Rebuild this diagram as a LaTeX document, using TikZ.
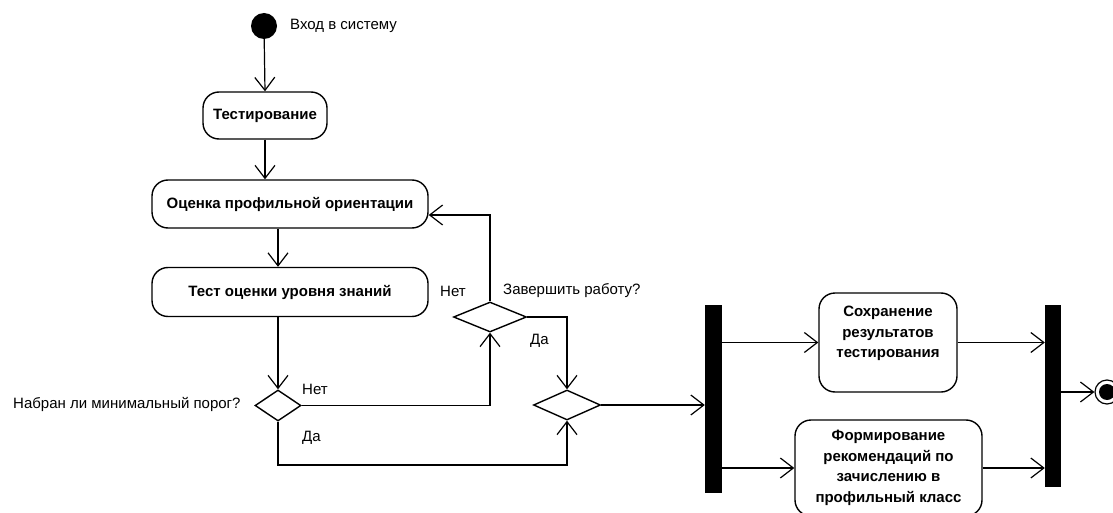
\documentclass[tikz,border=0pt]{standalone}
\usepackage{fontspec}
\setmainfont{Liberation Sans}
\usetikzlibrary{arrows.meta,shapes.geometric}
\begin{document}
\begin{tikzpicture}[x=1pt,y=-1pt,
 font=\fontsize{15}{20}\selectfont,
 act/.style={draw, line width=1.4pt, rounded corners=16pt, font=\fontsize{15}{20.5}\selectfont\bfseries, align=center, inner sep=0pt},
 dec/.style={draw, diamond, line width=1.4pt, inner sep=0pt},
 bar/.style={fill=black, draw=none, inner sep=0pt},
 flow/.style={line width=1.2pt, -{Straight Barb[length=13pt,width=20pt,line width=1.2pt]}},
 lbl/.style={inner sep=0pt, anchor=west}]
\clip (0,0) rectangle (1113,513);
\fill[white] (0,0) rectangle (1113,513);
% nodes
\node[circle, fill=black, minimum size=26pt, inner sep=0pt] (start) at (264,26) {};
\node[lbl] (startlbl) at (290,26) {Вход в систему};
\node[act, minimum width=124pt, minimum height=47pt] (testing) at (265,115.5) {Тестирование};
\node[act, minimum width=276pt, minimum height=48pt] (ocenka) at (290,204) {Оценка профильной ориентации};
\node[act, minimum width=276pt, minimum height=49pt] (know) at (290,292) {Тест оценки уровня знаний};
\node[dec, minimum width=46pt, minimum height=31pt] (d1) at (278,405.5) {};
\node[dec, minimum width=73pt, minimum height=30pt] (d2) at (490,317) {};
\node[dec, minimum width=67pt, minimum height=30pt] (d3) at (567,405) {};
\node[bar, minimum width=17pt, minimum height=188pt] (fork) at (713.5,399) {};
\node[act, minimum width=138pt, minimum height=99pt] (save) at (888,342.5) {Сохранение\\результатов\\тестирования\\\mbox{}};
\node[act, minimum width=187pt, minimum height=96pt] (form) at (888.5,468) {Формирование\\рекомендаций по\\зачислению в\\профильный класс};
\node[bar, minimum width=16pt, minimum height=182pt] (join) at (1053,396) {};
\node[circle, draw, line width=1.2pt, minimum size=24pt, inner sep=0pt] (end) at (1107,392) {};
\node[circle, fill=black, minimum size=16pt, inner sep=0pt] (endin) at (end) {};
% labels
\node[lbl] (q1) at (13,404) {Набран ли минимальный порог?};
\node[lbl] (no1) at (302,389) {Нет};
\node[lbl] (yes1) at (302,438) {Да};
\node[lbl] (no2) at (440,291) {Нет};
\node[lbl] (q2) at (503,291) {Завершить работу?};
\node[lbl] (yes2) at (530,341) {Да};
\coordinate (low) at (0,465);
% connectors
\draw[flow] (start) -- (testing.north);
\draw[flow] (testing.south) -- (testing.south |- ocenka.north);
\draw[flow] (ocenka.south -| d1) -- (know.north -| d1);
\draw[flow] (know.south -| d1) -- (d1.north);
\draw[flow] (d1.east) -| (d2.south);
\draw[flow] (d2.north) |- ([yshift=-11pt]ocenka.east);
\draw[flow] (d2.east) -| (d3.north);
\draw[flow] (d1.south) |- (d3.south |- low) -- (d3.south);
\draw[flow] (d3.east) -- (d3.east -| fork.west);
\draw[flow] (fork.east |- save.west) -- (save.west);
\draw[flow] (fork.east |- form.west) -- (form.west);
\draw[flow] (save.east) -- (save.east -| join.west);
\draw[flow] (form.east) -- (form.east -| join.west);
\draw[flow] (join.east |- end) -- (end.west);
\end{tikzpicture}
\end{document}
